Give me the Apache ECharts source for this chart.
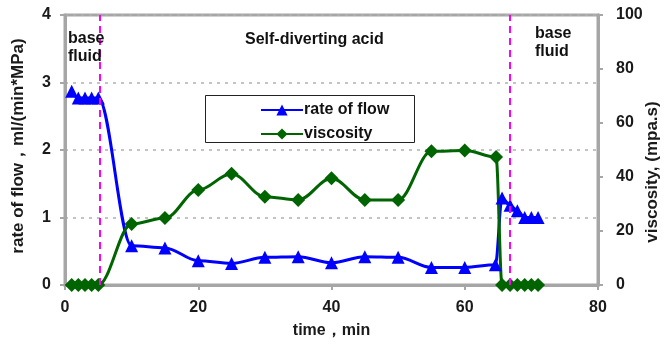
<!DOCTYPE html>
<html>
<head>
<meta charset="utf-8">
<script src="https://cdn.jsdelivr.net/npm/echarts@6/dist/echarts.min.js"></script>
<style>
  html, body { margin: 0; padding: 0; background: #fff; }
  #chart { width: 664px; height: 346px; }
</style>
</head>
<body>
<div id="chart"></div>
<script>
// Flow rate (ml/(min*MPa)) versus time (min)
const rateTime = [1, 2, 3, 4, 5, 10, 15, 20, 25, 30, 35, 40, 45, 50, 55, 60, 64.6, 65.6, 66.8, 67.9, 69, 70, 71];
const rateValues = [2.87, 2.77, 2.77, 2.77, 2.77, 0.58, 0.55, 0.36, 0.32, 0.41, 0.42, 0.33, 0.42, 0.41, 0.26, 0.26, 0.3, 1.29, 1.18, 1.1, 1.0, 1.0, 1.0];

// Viscosity (mpa.s) versus time (min)
const viscTime = [1, 2, 3, 4, 5, 10, 15, 20, 25, 30, 35, 40, 45, 50, 55, 60, 64.7, 65.6, 66.8, 67.9, 69, 70, 71];
const viscValues = [0, 0, 0, 0, 0, 22.6, 24.8, 35.2, 41.2, 32.7, 31.5, 39.5, 31.5, 31.5, 49.5, 49.8, 47.4, 0, 0, 0, 0, 0, 0];

// Stage boundaries (min)
const stageBounds = [5.25, 66.8];

const xTicks = { min: 0, max: 80, interval: 20 };
const rateTicks = { min: 0, max: 4, interval: 1 };
const viscTicks = { min: 0, max: 100, interval: 20 };

const FONT = 'Liberation Sans, Arial, sans-serif';
const AXIS_GRAY = '#a6a6a6';

const pairs = (xs, ys) => xs.map((x, i) => [x, ys[i]]);

const chart = echarts.init(document.getElementById('chart'), null, { renderer: 'canvas' });

const labelStyle = { fontFamily: FONT, fontWeight: 'bold', fontSize: 16, color: '#1a1a1a' };
const nameStyle = { fontFamily: FONT, fontWeight: 'bold', fontSize: 17, color: '#1a1a1a' };

chart.setOption({
  animation: false,
  backgroundColor: '#fff',
  grid: {
    left: 65, right: 66, top: 15, bottom: 61,
    containLabel: false,
    outerBoundsMode: 'none',
    show: true, borderColor: AXIS_GRAY, borderWidth: 3, backgroundColor: 'transparent'
  },
  xAxis: {
    type: 'value',
    min: xTicks.min, max: xTicks.max, interval: xTicks.interval,
    name: 'time，min',
    nameLocation: 'middle', nameGap: 38,
    nameTextStyle: Object.assign({}, nameStyle, { fontSize: 16 }),
    axisLine: { lineStyle: { color: AXIS_GRAY, width: 3 } },
    axisTick: { show: true, length: 5, lineStyle: { color: AXIS_GRAY, width: 2 } },
    axisLabel: Object.assign({ margin: 15 }, labelStyle),
    splitLine: { show: false }
  },
  yAxis: [
    {
      type: 'value',
      min: rateTicks.min, max: rateTicks.max, interval: rateTicks.interval,
      name: 'rate of flow，ml/(min*MPa)',
      nameLocation: 'middle', nameGap: 38,
      nameTextStyle: Object.assign({ padding: [0, 0, 0, 8] }, nameStyle),
      axisLine: { show: true, lineStyle: { color: AXIS_GRAY, width: 3 } },
      axisTick: { show: true, length: 5, lineStyle: { color: AXIS_GRAY, width: 2 } },
      axisLabel: Object.assign({ margin: 14 }, labelStyle),
      splitLine: { show: true, lineStyle: { color: '#b0b0b0', width: 1.5, type: [3, 5] } }
    },
    {
      type: 'value',
      min: viscTicks.min, max: viscTicks.max, interval: viscTicks.interval,
      name: 'viscosity, (mpa.s)',
      nameLocation: 'middle', nameGap: 46, nameRotate: 90,
      nameMoveOverlap: false,
      nameTextStyle: Object.assign({ padding: [0, 44, 0, 0] }, nameStyle),
      position: 'right',
      axisLine: { show: true, lineStyle: { color: AXIS_GRAY, width: 3 } },
      axisTick: { show: true, length: 5, lineStyle: { color: AXIS_GRAY, width: 2 } },
      axisLabel: Object.assign({ margin: 18 }, labelStyle),
      splitLine: { show: false }
    }
  ],
  legend: {
    orient: 'vertical',
    left: 255, top: 97,
    z: 20,
    itemWidth: 42, itemHeight: 14, itemGap: 8,
    textStyle: { fontFamily: FONT, fontWeight: 'bold', fontSize: 16, color: '#111', padding: [0, 0, 0, -4] },
    data: ['rate of flow', 'viscosity']
  },
  graphic: [
    {
      type: 'rect', left: 205, top: 95, z: 1,
      shape: { width: 209, height: 47 },
      style: { fill: '#fff', stroke: '#222', lineWidth: 1 }
    },
    {
      type: 'text', left: 68, top: 30, z: 10,
      style: { text: 'base\nfluid', font: 'bold 16px ' + FONT, fill: '#111', lineHeight: 18 }
    },
    {
      type: 'text', left: 245, top: 32, z: 10,
      style: { text: 'Self-diverting acid', font: 'bold 16px ' + FONT, fill: '#111' }
    },
    {
      type: 'text', left: 535, top: 25, z: 10,
      style: { text: 'base\nfluid', font: 'bold 16px ' + FONT, fill: '#111', lineHeight: 18, align: 'center' }
    }
  ],
  series: [
    {
      name: 'rate of flow',
      type: 'line',
      yAxisIndex: 0,
      data: pairs(rateTime, rateValues),
      smooth: 0.35,
      smoothMonotone: 'x',
      symbol: 'triangle',
      symbolSize: 13,
      lineStyle: { color: '#0000ff', width: 3 },
      itemStyle: { color: '#0000ff' },
      z: 3,
      markLine: {
        silent: true,
        symbol: ['none', 'none'],
        label: { show: false },
        lineStyle: { color: '#ff00ff', width: 2, type: [7, 5] },
        data: stageBounds.map(v => ({ xAxis: v })),
        z: 4
      }
    },
    {
      name: 'viscosity',
      type: 'line',
      yAxisIndex: 1,
      data: pairs(viscTime, viscValues),
      smooth: 0.35,
      smoothMonotone: 'x',
      symbol: 'diamond',
      symbolSize: 14,
      lineStyle: { color: '#006400', width: 3 },
      itemStyle: { color: '#006400' },
      z: 3
    }
  ]
});
</script>
</body>
</html>
